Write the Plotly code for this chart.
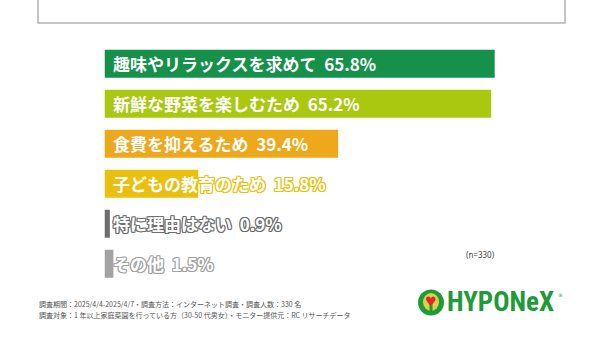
import plotly.graph_objects as go

categories = ["趣味やリラックスを求めて", "新鮮な野菜を楽しむため", "食費を抑えるため",
              "子どもの教育のため", "特に理由はない", "その他"]
values = [65.8, 65.2, 39.4, 15.8, 0.9, 1.5]
colors = ["#16914a", "#a9c80f", "#eea81c", "#e9c00f", "#6e6e6e", "#a3a3a3"]
note_lines = ["調査期間：2025/4/4-2025/4/7・調査方法：インターネット調査・調査人数：330 名",
              "調査対象：1 年以上家庭菜園を行っている方（30-50 代男女）・モニター提供元：RC リサーチデータ"]
n_label = "(n=330)"

W, H = 600, 337
x0px = 104.5
pxper = 5.93
xmax = (W - x0px) / pxper
top_px, bot_px = 63.7 - 20, 263.7 + 20

fig = go.Figure()
fig.add_trace(go.Bar(
    x=values, y=categories, orientation="h",
    marker=dict(color=colors, line=dict(width=0)),
    width=0.7, hoverinfo="skip", showlegend=False,
))

annotations = []
for i, (c, v) in enumerate(zip(categories, values)):
    outline = None
    if i >= 3:
        col = colors[i]
        outline = ", ".join(f"{dx}px {dy}px 0 {col}" for dx in (-1, 0, 1) for dy in (-1, 0, 1) if dx or dy)
    font = dict(family="Noto Sans CJK JP", size=17, color="white", weight="bold")
    if outline:
        font["shadow"] = outline
    annotations.append(dict(
        x=0, y=c, xref="x", yref="y", xanchor="left", yanchor="middle",
        xshift=6, yshift=0, showarrow=False,
        text=f"{c}\u00a0\u00a0{v}%", font=font,
    ))

for j, line in enumerate(note_lines):
    annotations.append(dict(
        x=37 / W, y=1 - (304 + 11 * j) / H, xref="paper", yref="paper",
        xanchor="left", yanchor="middle", showarrow=False, text=line,
        font=dict(family="Noto Sans CJK JP", size=7, color="#555555"),
    ))

annotations.append(dict(
    x=480 / W, y=1 - 254 / H, xref="paper", yref="paper", xanchor="center",
    yanchor="middle", showarrow=False, text=n_label,
    font=dict(family="Noto Sans", size=8, color="#444444"),
))

# logo
annotations.append(dict(
    x=445 / W, y=1 - 302 / H, xref="paper", yref="paper", xanchor="left",
    yanchor="middle", showarrow=False, text="HYPONeX",
    font=dict(family="Roboto Condensed", size=27, color="#1f9a3a", weight="bold"),
))
annotations.append(dict(
    x=431 / W, y=1 - 301 / H, xref="paper", yref="paper", xanchor="center",
    yanchor="middle", showarrow=False, text="♥",
    font=dict(family="DejaVu Sans", size=13, color="#e2262b"),
))
annotations.append(dict(
    x=560 / W, y=1 - 295 / H, xref="paper", yref="paper", xanchor="center",
    yanchor="middle", showarrow=False, text="®",
    font=dict(family="DejaVu Sans", size=5, color="#1f9a3a"),
))

shapes = [
    dict(type="rect", xref="paper", yref="paper", x0=38 / W, x1=565 / W,
         y0=1 - 23 / H, y1=1.1, line=dict(color="#b3b3b3", width=1.5), fillcolor="rgba(0,0,0,0)"),
    dict(type="circle", xref="paper", yref="paper", x0=418 / W, x1=444 / W,
         y0=1 - 315.5 / H, y1=1 - 289.5 / H, line=dict(width=0), fillcolor="#1f9a3a"),
    dict(type="circle", xref="paper", yref="paper", x0=423 / W, x1=439 / W,
         y0=1 - 311 / H, y1=1 - 293 / H, line=dict(width=0), fillcolor="#d8d24a"),
    dict(type="rect", xref="paper", yref="paper", x0=429.5 / W, x1=432.5 / W,
         y0=1 - 314 / H, y1=1 - 304 / H, line=dict(width=0), fillcolor="#1f9a3a"),
]

fig.update_layout(
    width=W, height=H, margin=dict(l=0, r=0, t=0, b=0),
    paper_bgcolor="white", plot_bgcolor="white",
    xaxis=dict(domain=[x0px / W, 1], range=[0, xmax], visible=False, fixedrange=True),
    yaxis=dict(domain=[1 - bot_px / H, 1 - top_px / H], range=[5.5, -0.5],
               type="category", categoryorder="array", categoryarray=categories,
               visible=False, fixedrange=True),
    annotations=annotations, shapes=shapes,
    bargap=0.3,
)

fig.write_html("out.html", config={"displayModeBar": False})
